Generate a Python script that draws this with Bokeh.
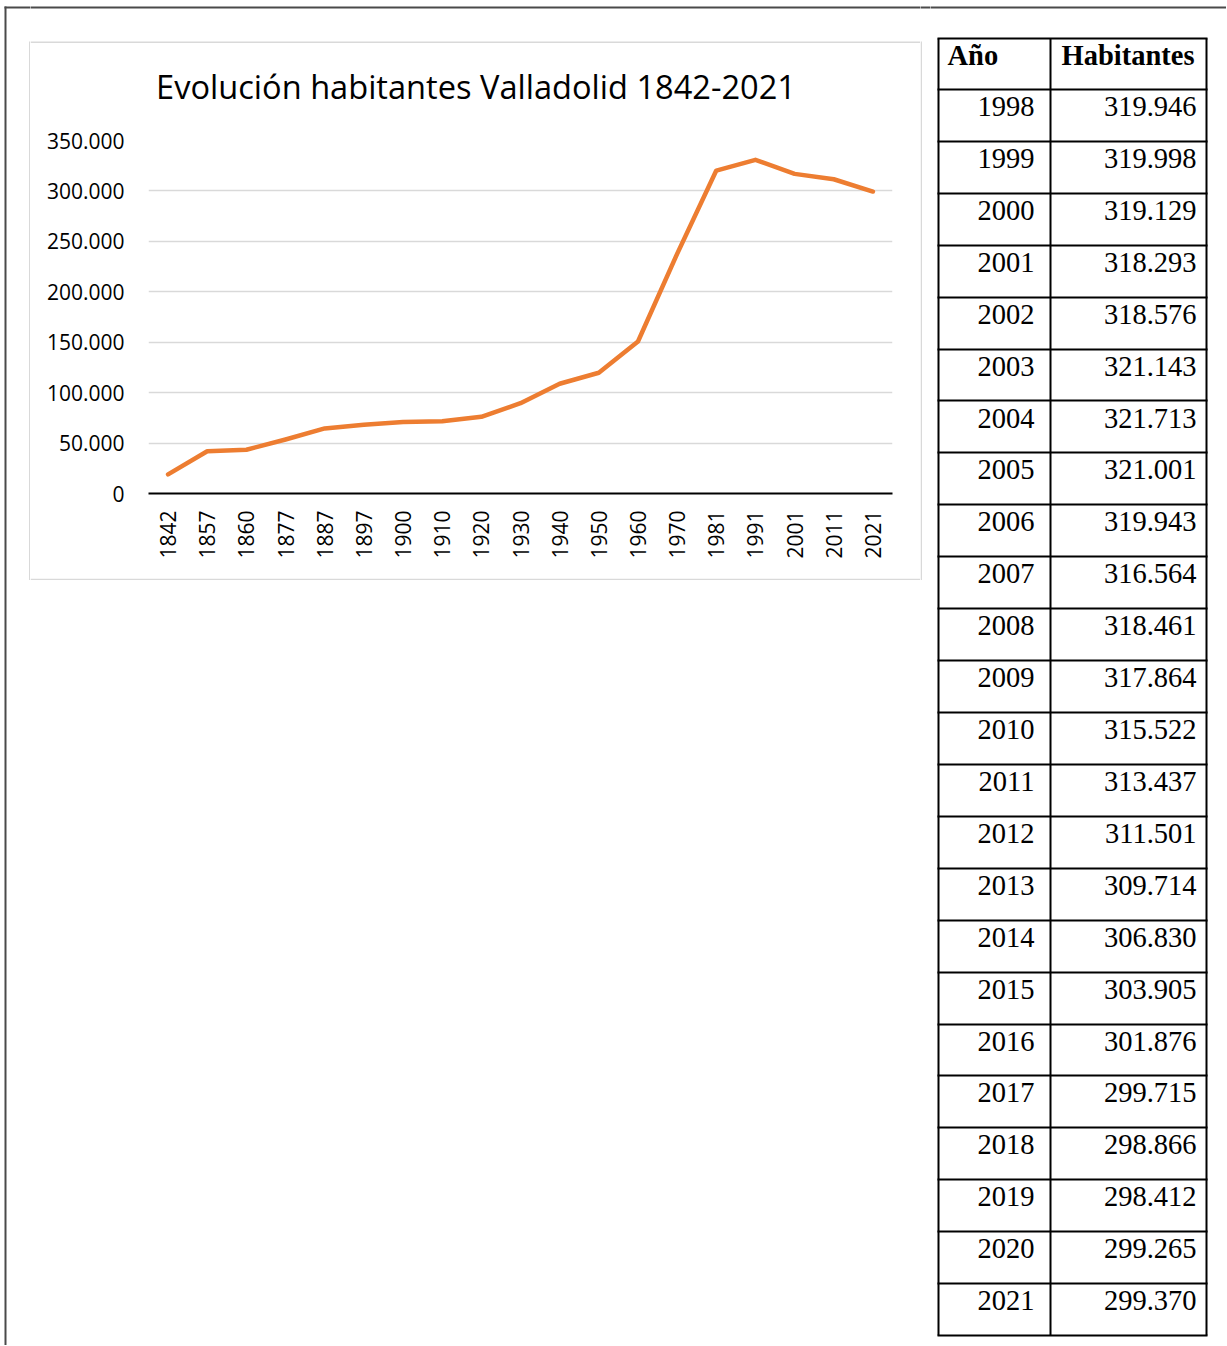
import math
from bokeh.plotting import figure
from bokeh.models import (Range1d, FactorRange, FixedTicker, CustomJSTickFormatter)
from bokeh.layouts import row, column
from bokeh.core.properties import value
from bokeh.embed import file_html
from bokeh.resources import INLINE

# ---------------- chart data ----------------
chart_title = "Evolución habitantes Valladolid 1842-2021"
census_years = ["1842", "1857", "1860", "1877", "1887", "1897", "1900", "1910", "1920",
                "1930", "1940", "1950", "1960", "1970", "1981", "1991", "2001", "2011", "2021"]
population = [19000, 41913, 43361, 53500, 64500, 68100, 70800, 71700, 76000,
              89500, 108800, 119700, 150700, 237600, 320200, 330800, 316900, 311600, 299370]
y_ticks = [0, 50000, 100000, 150000, 200000, 250000, 300000, 350000]

# ---------------- table data ----------------
table_header = ["Año", "Habitantes"]
table_years = ["1998", "1999", "2000", "2001", "2002", "2003", "2004", "2005", "2006", "2007",
               "2008", "2009", "2010", "2011", "2012", "2013", "2014", "2015", "2016", "2017",
               "2018", "2019", "2020", "2021"]
table_population = [319946, 319998, 319129, 318293, 318576, 321143, 321713, 321001, 319943, 316564,
                    318461, 317864, 315522, 313437, 311501, 309714, 306830, 303905, 301876, 299715,
                    298866, 298412, 299265, 299370]


def thousands(v):
    return f"{v:,}".replace(",", ".")


# ---------------- page geometry (page pixels, y downwards) ----------------
PAGE_W, PAGE_H = 1226, 1345
LEFT_W = 930
CHART_X0, CHART_X1, CHART_Y0, CHART_Y1 = 30, 920, 118, 578
OUTER = "#4a4a4a"
BOXC = "#d9d9d9"


def panel(x0, x1, y0, y1):
    """A blank figure whose plotting frame covers the whole canvas, in page pixels."""
    f = figure(width=x1 - x0, height=y1 - y0,
               x_range=Range1d(x0, x1), y_range=Range1d(y1, y0),
               x_axis_type=None, y_axis_type=None, min_border=0,
               toolbar_location=None, output_backend="svg",
               background_fill_color="white", border_fill_color="white",
               outline_line_color=None)
    f.grid.visible = False
    return f


def bar(f, l, r, t, b, color):
    f.quad(left=[l], right=[r], top=[t], bottom=[b], fill_color=color, line_color=None)


def hline(f, x0, x1, y, color, width):
    f.segment(x0=[x0], x1=[x1], y0=[y], y1=[y], line_color=color, line_width=width)


# ---- left strip: outer border and chart box left edge ----
lstrip = panel(0, CHART_X0, 0, PAGE_H)
bar(lstrip, 4, 6, 6, PAGE_H, OUTER)
hline(lstrip, 4, CHART_X0 + 5, 7, OUTER, 2)
bar(lstrip, 28.5, 30, 41, 579.5, BOXC)

# ---- above the chart: outer border, chart box top, title ----
topmid = panel(CHART_X0, CHART_X1, 0, CHART_Y0)
hline(topmid, CHART_X0 - 5, CHART_X1 + 5, 7, OUTER, 2)
bar(topmid, CHART_X0, CHART_X1, 41, 42.5, BOXC)
topmid.text(x=[475.5], y=[86], text=[chart_title], text_align="center",
            text_baseline="alphabetic", text_font=value("Open Sans"),
            text_font_size="32.6px", text_color="#000000")

# ---- below the chart: chart box bottom ----
botmid = panel(CHART_X0, CHART_X1, CHART_Y1, PAGE_H)
bar(botmid, CHART_X0, CHART_X1, 578, 579.5, BOXC)

# ---- right strip: chart box right edge ----
rstrip = panel(CHART_X1, LEFT_W, 0, PAGE_H)
hline(rstrip, CHART_X1 - 5, LEFT_W + 5, 7, OUTER, 2)
bar(rstrip, 920, 921.5, 41, 579.5, BOXC)

# ---- the line chart ----
FL, FW, FT, FH = 148, 744, 140, 353      # data area in page pixels
p = figure(x_range=FactorRange(factors=census_years, range_padding=0),
           y_range=Range1d(0, 350000),
           frame_width=FW, frame_height=FH,
           min_border_left=FL - CHART_X0, min_border_right=CHART_X1 - FL - FW,
           min_border_top=FT - CHART_Y0, min_border_bottom=CHART_Y1 - FT - FH,
           toolbar_location=None, output_backend="svg",
           background_fill_color="white", border_fill_color="white",
           outline_line_color=None)

ya = p.yaxis[0]
ya.ticker = FixedTicker(ticks=y_ticks)
ya.formatter = CustomJSTickFormatter(
    code="return Math.round(tick).toString().replace(/\\B(?=(\\d{3})+(?!\\d))/g, '.');")
ya.axis_line_color = None
ya.major_tick_line_color = None
ya.minor_tick_line_color = None
ya.major_tick_out = 0
ya.major_tick_in = 0
ya.major_label_standoff = 24
ya.major_label_text_font = "Open Sans"
ya.major_label_text_font_size = "21px"
ya.major_label_text_color = "#000000"

xa = p.xaxis[0]
xa.major_label_orientation = math.pi / 2
xa.axis_line_color = "#000000"
xa.axis_line_width = 2
xa.major_tick_line_color = None
xa.minor_tick_line_color = None
xa.major_tick_out = 0
xa.major_tick_in = 0
xa.major_label_standoff = 17
xa.major_label_text_font = "Open Sans"
xa.major_label_text_font_size = "21px"
xa.major_label_text_color = "#000000"

p.xgrid.grid_line_color = None
p.ygrid.grid_line_color = "#d9d9d9"
p.ygrid.grid_line_width = 1.5

p.line(census_years, population, line_color="#ED7D31", line_width=4.5,
       line_cap="round", line_join="round")

# ---- the table ----
tab = panel(LEFT_W, PAGE_W, 0, PAGE_H)
hline(tab, LEFT_W - 5, PAGE_W + 5, 7, OUTER, 2)
T_L, T_D, T_R = 938, 1050, 1206
T_TOP, T_HB, T_BOT = 38, 89, 1335
nrow = len(table_years)
row_h = (T_BOT - T_HB) / nrow
h_lines = [T_TOP, T_HB] + [round(T_HB + (i + 1) * row_h) for i in range(nrow)]
tab.segment(x0=[T_L - 1] * len(h_lines), x1=[T_R + 1] * len(h_lines), y0=h_lines, y1=h_lines,
            line_color="#000000", line_width=2)
tab.segment(x0=[T_L, T_D, T_R], x1=[T_L, T_D, T_R], y0=[T_TOP] * 3, y1=[T_BOT] * 3,
            line_color="#000000", line_width=2)

TXT_OFF = 17
tab.text(x=[T_L + 9, T_D + 11], y=[T_TOP + TXT_OFF, T_TOP + TXT_OFF], text=table_header,
         text_align="left", text_baseline="alphabetic",
         text_font=value("Liberation Serif"), text_font_style="bold",
         text_font_size="28.5px", text_color="#000000")
row_base = [T_HB + i * row_h + TXT_OFF for i in range(nrow)]
tab.text(x=[T_D - 16] * nrow, y=row_base, text=table_years,
         text_align="right", text_baseline="alphabetic",
         text_font=value("Liberation Serif"), text_font_size="28.5px", text_color="#000000")
tab.text(x=[T_R - 10] * nrow, y=row_base, text=[thousands(v) for v in table_population],
         text_align="right", text_baseline="alphabetic",
         text_font=value("Liberation Serif"), text_font_size="28.5px", text_color="#000000")

middle = column(topmid, row(p), botmid)
page = row(lstrip, middle, rstrip, tab)

open("out.html", "w").write(file_html(page, INLINE, title="Evolución habitantes Valladolid"))
